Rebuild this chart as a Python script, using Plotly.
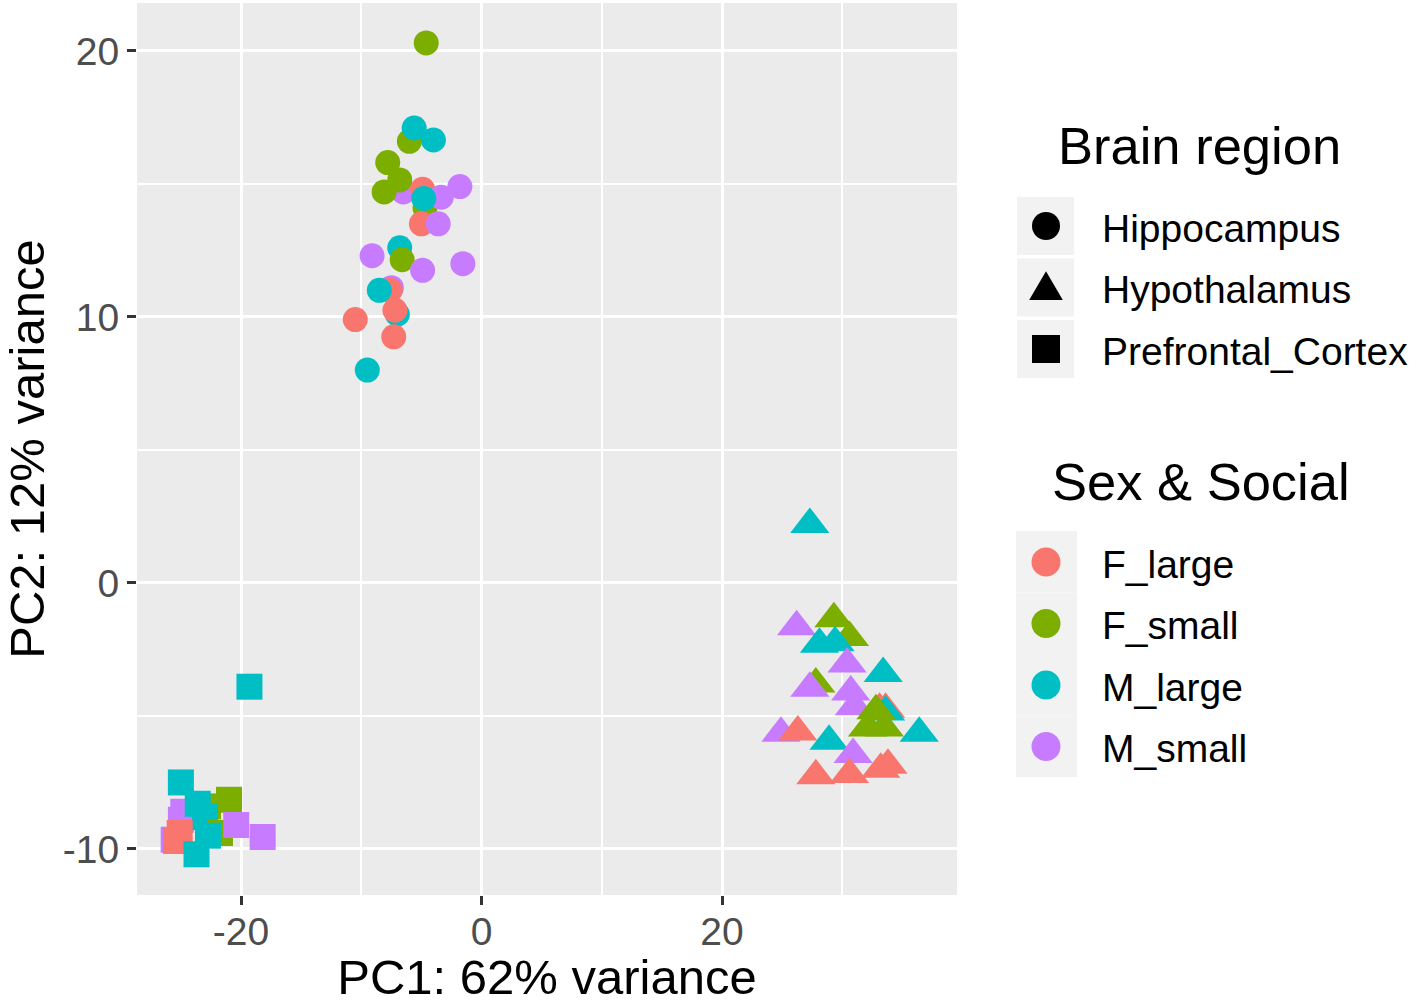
import plotly.graph_objects as go

W, H = 1418, 1004
FONT = "Liberation Sans, Arial, sans-serif"

# ---------------- data ----------------
groups = ["F_large", "F_small", "M_large", "M_small"]
group_colors = ["#F8766D", "#7CAE00", "#00BFC4", "#C77CFF"]
regions = ["Hippocampus", "Hypothalamus", "Prefrontal_Cortex"]
region_symbols = ["circle", "triangle-up", "square"]
region_sizes = [25, 34, 26]

hip_pc1 = [-4.6, -6.0, -5.6, -4.0, -7.8, -6.5, -6.8, -8.1, -4.9, -1.8, -4.7, -3.35, -5.0, -3.6,
           -4.8, -6.8, -6.6, -9.1, -4.9, -1.55, -7.5, -7.6, -8.5, -7.0, -7.2, -10.5, -7.3, -9.5]
hip_pc2 = [20.3, 16.6, 17.1, 16.65, 15.8, 14.7, 15.15, 14.7, 14.8, 14.9, 14.1, 14.5, 13.5, 13.5,
           14.45, 12.6, 12.15, 12.3, 11.75, 12.0, 11.1, 11.0, 11.0, 10.1, 10.25, 9.9, 9.25, 8.0]
hip_grp = ["F_small", "F_small", "M_large", "M_large", "F_small", "M_small", "F_small", "F_small",
           "F_large", "M_small", "F_small", "M_small", "F_large", "M_small", "M_large", "M_large",
           "F_small", "M_small", "M_small", "M_small", "M_small", "F_large", "M_large", "M_large",
           "F_large", "F_large", "F_large", "M_large"]

hyp_pc1 = [27.3, 26.2, 29.3, 30.6, 28.1, 29.4, 30.4, 33.4, 27.8, 27.3, 30.7, 31.0, 33.1, 33.6,
           33.6, 32.8, 32.1, 33.5, 36.4, 24.9, 26.3, 28.9, 30.9, 27.8, 30.6, 33.8, 33.2]
hyp_pc2 = [2.2, -1.65, -1.35, -2.05, -2.3, -2.25, -3.05, -3.4, -3.8, -3.96, -4.1, -4.65, -4.75, -4.75,
           -4.85, -4.8, -5.45, -5.45, -5.65, -5.65, -5.6, -5.95, -6.45, -7.25, -7.2, -6.85, -7.0]
hyp_grp = ["M_large", "M_small", "F_small", "F_small", "M_large", "M_large", "M_small", "M_large",
           "F_small", "M_small", "M_small", "M_small", "F_large", "F_large", "M_large", "F_small",
           "F_small", "F_small", "M_large", "M_small", "F_large", "M_large", "M_small", "F_large",
           "F_large", "F_large", "F_large"]

pfc_pc1 = [-19.3, -25.0, -24.8, -25.0, -21.0, -22.75, -23.6, -23.0, -21.75, -20.4, -25.6, -25.1,
           -25.4, -22.75, -18.2, -23.7]
pfc_pc2 = [-3.9, -7.5, -8.6, -8.9, -8.15, -8.4, -8.3, -8.8, -9.4, -9.1, -9.65, -9.4,
           -9.7, -9.5, -9.55, -10.2]
pfc_grp = ["M_large", "M_large", "M_small", "M_small", "F_small", "F_small", "M_large", "M_large",
           "F_small", "M_small", "M_small", "F_large", "F_large", "M_large", "M_small", "M_large"]

x_range = [-28.65, 39.54]
y_range = [-11.73, 21.8]
x_major = [-20, 0, 20]
x_minor = [-10, 10, 30]
y_major = [-10, 0, 10, 20]
y_minor = [-5, 5, 15]

# ---------------- figure ----------------
# panel in pixels
PL, PR, PT, PB = 137, 957, 3, 895
def px2x(px):
    return (px - PL) / (PR - PL)
def py2y(py):
    return (PB - py) / (PB - PT)

fig = go.Figure()
data_sets = [(hip_pc1, hip_pc2, hip_grp), (hyp_pc1, hyp_pc2, hyp_grp), (pfc_pc1, pfc_pc2, pfc_grp)]
for reg, sym, size, (xs, ys, gs) in zip(regions, region_symbols, region_sizes, data_sets):
    fig.add_trace(go.Scatter(
        x=xs, y=ys, mode="markers", name=reg, showlegend=False,
        text=[f"{reg}<br>{g}" for g in gs],
        marker=dict(symbol=sym, size=size,
                    color=[group_colors[groups.index(g)] for g in gs],
                    line=dict(width=0)),
        hoverinfo="x+y+text",
    ))

axis_common = dict(
    showgrid=True, gridcolor="white", gridwidth=3, zeroline=False,
    ticks="outside", ticklen=9, tickwidth=2.5, tickcolor="#333333",
    tickfont=dict(family=FONT, size=39, color="#4D4D4D"),
    showline=False, automargin=False,
)

fig.update_layout(
    width=W, height=H,
    margin=dict(l=PL, r=W - PR, t=PT, b=H - PB, pad=0),
    paper_bgcolor="white", plot_bgcolor="#EBEBEB",
    showlegend=False,
    xaxis=dict(range=x_range, tickvals=x_major, ticktext=[str(v) for v in x_major],
               minor=dict(tickvals=x_minor, showgrid=True, gridcolor="white", gridwidth=1.5, ticks=""),
               ticklabelstandoff=-7,
               title=dict(text="PC1: 62% variance", font=dict(family=FONT, size=49, color="black"),
                          standoff=14),
               **axis_common),
    yaxis=dict(range=y_range, tickvals=y_major, ticktext=[str(v) for v in y_major],
               minor=dict(tickvals=y_minor, showgrid=True, gridcolor="white", gridwidth=1.5, ticks=""),
               title=dict(text="PC2: 12% variance", font=dict(family=FONT, size=49, color="black"),
                          standoff=14),
               **axis_common),
)

# ---------------- custom legends (ggplot style) ----------------
shapes = []
annotations = []

def add_title(text, left_px, mid_py):
    annotations.append(dict(x=px2x(left_px), y=py2y(mid_py), xref="paper", yref="paper",
                            text=text, showarrow=False, xanchor="left", yanchor="middle",
                            font=dict(family=FONT, size=52.5, color="black")))

def add_label(text, left_px, mid_py):
    annotations.append(dict(x=px2x(left_px), y=py2y(mid_py), xref="paper", yref="paper",
                            text=text, showarrow=False, xanchor="left", yanchor="middle",
                            font=dict(family=FONT, size=39, color="black")))

def key_box(x0, x1, y0, y1):
    shapes.append(dict(type="rect", xref="paper", yref="paper",
                       x0=px2x(x0), x1=px2x(x1), y0=py2y(y1), y1=py2y(y0),
                       fillcolor="#F2F2F2", line=dict(width=0), layer="above"))

def key_symbol(sym, cx, cy, color, s):
    if sym == "circle":
        shapes.append(dict(type="circle", xref="paper", yref="paper",
                           x0=px2x(cx - s / 2), x1=px2x(cx + s / 2),
                           y0=py2y(cy + s / 2), y1=py2y(cy - s / 2),
                           fillcolor=color, line=dict(width=0), layer="above"))
    elif sym == "square":
        shapes.append(dict(type="rect", xref="paper", yref="paper",
                           x0=px2x(cx - s / 2), x1=px2x(cx + s / 2),
                           y0=py2y(cy + s / 2), y1=py2y(cy - s / 2),
                           fillcolor=color, line=dict(width=0), layer="above"))
    else:
        hw = s * 0.6
        top = cy - s * 0.58
        bot = cy + s * 0.45
        path = (f"M {px2x(cx - hw)},{py2y(bot)} L {px2x(cx + hw)},{py2y(bot)} "
                f"L {px2x(cx)},{py2y(top)} Z")
        shapes.append(dict(type="path", xref="paper", yref="paper", path=path,
                           fillcolor=color, line=dict(width=0), layer="above"))

# Legend 1: Brain region
L1_top, L1_step = 197, 61.5
add_title("Brain region", 1056, 146)
for i, (reg, sym) in enumerate(zip(regions, region_symbols)):
    y0 = L1_top + i * L1_step
    key_box(1017, 1074, y0, y0 + 58)
    key_symbol(sym, 1046, y0 + 29, "black", 28)
    add_label(reg, 1100, y0 + 31)

# Legend 2: Sex & Social
L2_top, L2_step = 531, 61.5
add_title("Sex &amp; Social", 1050, 482)
for i, (g, c) in enumerate(zip(groups, group_colors)):
    y0 = L2_top + i * L2_step
    key_box(1016, 1077, y0, y0 + L2_step)
    key_symbol("circle", 1046, y0 + 31, c, 29)
    add_label(g, 1100, y0 + 33)

fig.update_layout(shapes=shapes, annotations=annotations)

fig.write_html("out.html", config={"displayModeBar": False},
               post_script="document.body.style.margin='0';")
